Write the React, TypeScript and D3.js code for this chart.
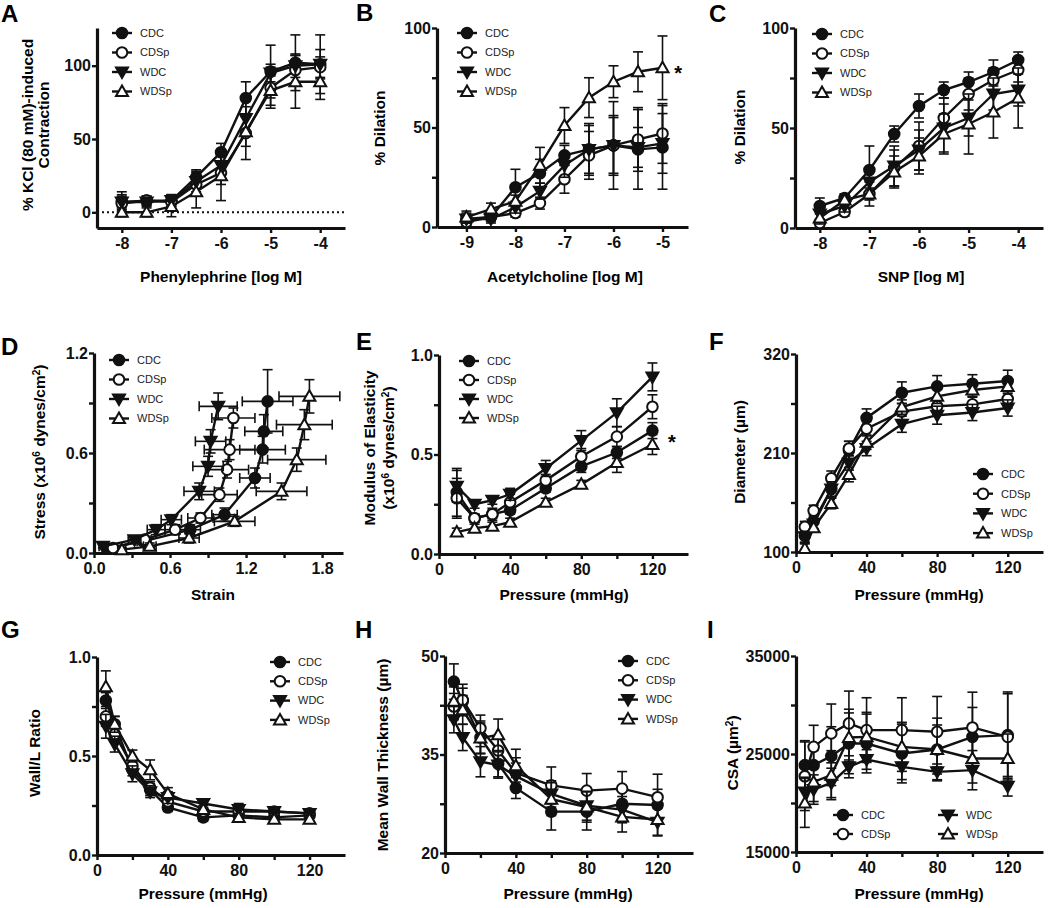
import React, { useEffect, useRef } from 'react';
import * as d3 from 'd3';

const GROUPS = ['CDC', 'CDSp', 'WDC', 'WDSp'];

// A: phenylephrine contraction
const peDose = [-8, -7.5, -7, -6.5, -6, -5.5, -5, -4.5, -4];
const peMean = [
    [7, 8, 8, 24, 41, 78, 96, 102, 101],
    [6, 8, 7, 19, 27, 54, 85, 97, 99],
    [7, 7, 8, 21, 32, 64, 95, 100, 101],
    [0, 0, 4, 14, 25, 55, 83, 89, 89],
];
const peErr = [
    [7, 3, 4, 5, 6, 11, 18, 19, 20],
    [5, 3, 5, 8, 8, 18, 14, 10, 7],
    [5, 3, 4, 7, 10, 12, 6, 8, 10],
    [3, 3, 7, 11, 17, 10, 10, 18, 12],
];

// B: acetylcholine dilation
const achDose = [-9, -8.5, -8, -7.5, -7, -6.5, -6, -5.5, -5];
const achMean = [
    [4, 5, 20, 27, 36, 39, 41, 39, 40],
    [2.5, 5, 7, 12, 24, 36, 41, 44, 47],
    [4, 4, 10, 18, 31, 39, 41, 40, 42],
    [5, 9, 13, 31, 51, 65, 73, 78, 80],
];
const achErr = [
    [3, 2, 9, 7, 5, 13, 22, 20, 21],
    [2, 2, 2, 3, 7, 12, 14, 16, 15],
    [2, 2, 3, 4, 6, 12, 15, 10, 15],
    [3, 3, 3, 9, 9, 10, 8, 10, 16],
];

// C: SNP dilation
const snpDose = [-8, -7.5, -7, -6.5, -6, -5.5, -5, -4.5, -4];
const snpMean = [
    [11, 15, 29, 47, 61, 69, 73, 78, 84],
    [2.5, 8, 17, 30, 41, 55, 67, 74, 79],
    [7, 11, 23, 31, 39, 50, 55, 67, 69],
    [5, 14, 17, 28, 36, 47, 52, 58, 65],
];
const snpErr = [
    [4, 2, 12, 4, 6, 4, 5, 6, 4],
    [2, 2, 3, 9, 12, 10, 8, 6, 6],
    [3, 3, 6, 10, 10, 12, 9, 8, 8],
    [3, 3, 6, 8, 9, 10, 15, 13, 15],
];

// D: stress-strain
const ssStrain = [
    [0.10, 0.39, 0.76, 1.03, 1.27, 1.33, 1.34, 1.37],
    [0.15, 0.40, 0.64, 0.84, 0.99, 1.05, 1.07, 1.10],
    [0.07, 0.32, 0.49, 0.61, 0.83, 0.90, 0.92, 0.98],
    [0.22, 0.44, 0.75, 1.11, 1.48, 1.60, 1.66, 1.70],
];
const ssStress = [
    [0.03, 0.07, 0.14, 0.23, 0.45, 0.62, 0.73, 0.91],
    [0.03, 0.08, 0.14, 0.21, 0.35, 0.50, 0.62, 0.81],
    [0.04, 0.08, 0.14, 0.20, 0.37, 0.52, 0.67, 0.88],
    [0.02, 0.04, 0.09, 0.19, 0.37, 0.56, 0.77, 0.94],
];
const ssStrainErr = [
    [0.03, 0.05, 0.08, 0.10, 0.12, 0.18, 0.15, 0.20],
    [0.03, 0.05, 0.08, 0.10, 0.14, 0.17, 0.20, 0.17],
    [0.03, 0.05, 0.07, 0.08, 0.12, 0.12, 0.12, 0.15],
    [0.03, 0.05, 0.08, 0.16, 0.20, 0.23, 0.22, 0.24],
];
const ssStressErr = [
    [0.01, 0.02, 0.03, 0.04, 0.06, 0.08, 0.10, 0.19],
    [0.01, 0.02, 0.03, 0.03, 0.04, 0.05, 0.06, 0.06],
    [0.01, 0.02, 0.03, 0.03, 0.05, 0.06, 0.07, 0.08],
    [0.01, 0.02, 0.03, 0.03, 0.05, 0.07, 0.09, 0.10],
];

// E: modulus of elasticity
const modPressure = [10, 20, 30, 40, 60, 80, 100, 120];
const modMean = [
    [0.31, 0.18, 0.20, 0.22, 0.33, 0.44, 0.51, 0.62],
    [0.28, 0.18, 0.20, 0.26, 0.37, 0.49, 0.59, 0.74],
    [0.34, 0.25, 0.27, 0.30, 0.43, 0.57, 0.71, 0.89],
    [0.11, 0.13, 0.14, 0.16, 0.26, 0.35, 0.46, 0.55],
];
const modErr = [
    [0.12, 0.02, 0.02, 0.02, 0.02, 0.03, 0.03, 0.04],
    [0.10, 0.02, 0.03, 0.04, 0.03, 0.04, 0.05, 0.06],
    [0.08, 0.02, 0.02, 0.03, 0.04, 0.05, 0.07, 0.07],
    [0.02, 0.02, 0.02, 0.02, 0.02, 0.02, 0.05, 0.05],
];

// F, G, H, I: pressure curves
const pressure = [5, 10, 20, 30, 40, 60, 80, 100, 120];
const diamMean = [
    [118, 134, 170, 213, 249, 277, 284, 287, 290],
    [128, 146, 182, 215, 237, 256, 262, 264, 270],
    [117, 131, 170, 199, 215, 242, 252, 255, 260],
    [104, 127, 154, 186, 222, 261, 273, 280, 284],
];
const diamErr = [
    [8, 8, 10, 10, 10, 12, 12, 10, 12],
    [6, 6, 8, 8, 8, 9, 9, 9, 10],
    [6, 6, 8, 8, 8, 9, 10, 9, 9],
    [5, 5, 6, 8, 8, 8, 8, 8, 8],
];
const wlMean = [
    [0.78, 0.66, 0.43, 0.33, 0.24, 0.19, 0.20, 0.19, 0.20],
    [0.70, 0.61, 0.45, 0.34, 0.27, 0.22, 0.22, 0.22, 0.21],
    [0.65, 0.56, 0.41, 0.32, 0.29, 0.26, 0.23, 0.22, 0.21],
    [0.85, 0.66, 0.50, 0.43, 0.31, 0.23, 0.19, 0.18, 0.18],
];
const wlErr = [
    [0.04, 0.04, 0.03, 0.03, 0.02, 0.02, 0.02, 0.01, 0.01],
    [0.05, 0.04, 0.03, 0.03, 0.02, 0.01, 0.01, 0.01, 0.01],
    [0.06, 0.04, 0.04, 0.03, 0.03, 0.02, 0.03, 0.01, 0.01],
    [0.08, 0.04, 0.03, 0.05, 0.03, 0.02, 0.02, 0.01, 0.01],
];
const wtMean = [
    [46.1, 43.1, 37.6, 33.6, 29.9, 26.3, 26.3, 27.5, 27.3],
    [42.3, 43.3, 39.0, 35.6, 32.2, 30.3, 29.5, 29.8, 28.5],
    [40.3, 37.6, 33.9, 33.4, 31.7, 29.0, 27.2, 26.6, 24.7],
    [43.1, 41.8, 37.5, 38.0, 33.3, 28.2, 27.0, 25.5, 25.1],
];
const wtErr = [
    [2.7, 2.0, 2.5, 2.0, 1.6, 2.8, 2.8, 2.2, 2.4],
    [2.0, 2.4, 2.0, 2.2, 2.3, 2.8, 2.6, 2.6, 3.5],
    [2.0, 2.0, 2.3, 2.0, 2.0, 2.0, 2.2, 2.0, 2.1],
    [2.2, 2.2, 2.3, 2.4, 2.5, 2.5, 2.3, 2.3, 2.4],
];
const csaMean = [
    [23860, 23860, 24780, 26070, 26070, 25050, 25460, 26750, 26930],
    [22730, 25730, 27100, 28120, 27440, 27440, 27270, 27710, 26750],
    [21130, 21370, 22050, 23690, 24440, 23690, 23180, 23350, 21710],
    [20010, 22150, 22840, 26690, 26750, 25730, 25460, 24540, 24540],
];
const csaErr = [
    [2500, 1500, 3000, 3500, 3000, 3000, 3200, 3000, 4400],
    [3500, 2200, 3000, 3300, 3300, 3300, 3600, 3600, 4400],
    [1500, 1500, 1500, 700, 1000, 1300, 800, 2000, 1000],
    [2500, 2000, 2500, 2500, 2500, 2500, 2500, 2500, 2500],
];

const FONT = "Arial, 'Liberation Sans', Helvetica, sans-serif";

// plain hyphen for negatives, as in the original figure
const intFmt = v => String(v);
const oneDec = v => v.toFixed(1);

// panel frames: left/right x of x-axis, top/bottom y of y-axis
const panels = [
    {
        letter: 'A', letterX: 1, letterY: 22,
        left: 97, right: 345, top: 28, bottom: 228,
        xDomain: [-8.5, -3.5], yDomain: [-10.7, 125.7],
        xTicks: [-8, -7, -6, -5, -4], xMinor: [], yTicks: [0, 50, 100], yMinor: [],
        xFmt: intFmt, yFmt: intFmt,
        xTitle: 'Phenylephrine [log M]', xTitleX: 221, xTitleY: 282,
        yTitle: ['% KCl (80 mM)-induced', 'Contraction'], yTitleX: [28, 44], yTitleY: 125,
        xs: [peDose, peDose, peDose, peDose], ys: peMean, yErr: peErr,
        legend: { x: 122, y: 33, dy: 19.5, cols: 1 }, zeroLine: true,
    },
    {
        letter: 'B', letterX: 356, letterY: 21,
        left: 437, right: 688, top: 28, bottom: 227,
        xDomain: [-9.6, -4.48], yDomain: [0, 100],
        xTicks: [-9, -8, -7, -6, -5], xMinor: [], yTicks: [0, 50, 100], yMinor: [25, 75],
        xFmt: intFmt, yFmt: intFmt,
        xTitle: 'Acetylcholine [log M]', xTitleX: 565, xTitleY: 282,
        yTitle: ['% Dilation'], yTitleX: [380], yTitleY: 128,
        xs: [achDose, achDose, achDose, achDose], ys: achMean, yErr: achErr,
        legend: { x: 467, y: 33, dy: 19.5, cols: 1 }, star: { x: -4.68, y: 81 },
    },
    {
        letter: 'C', letterX: 709, letterY: 22,
        left: 795, right: 1043, top: 28, bottom: 228,
        xDomain: [-8.5, -3.5], yDomain: [0, 100],
        xTicks: [-8, -7, -6, -5, -4], xMinor: [], yTicks: [0, 50, 100], yMinor: [25, 75],
        xFmt: intFmt, yFmt: intFmt,
        xTitle: 'SNP [log M]', xTitleX: 921, xTitleY: 282,
        yTitle: ['% Dilation'], yTitleX: [740], yTitleY: 127,
        xs: [snpDose, snpDose, snpDose, snpDose], ys: snpMean, yErr: snpErr,
        legend: { x: 822, y: 34, dy: 19.5, cols: 1 },
    },
    {
        letter: 'D', letterX: 1, letterY: 355,
        left: 94, right: 343, top: 353, bottom: 553,
        xDomain: [0, 1.965], yDomain: [0, 1.2],
        xTicks: [0, 0.6, 1.2, 1.8], xMinor: [0.3, 0.9, 1.5], yTicks: [0, 0.6, 1.2], yMinor: [0.3, 0.9],
        xFmt: oneDec, yFmt: oneDec,
        xTitle: 'Strain', xTitleX: 213, xTitleY: 600,
        yTitle: ['Stress (x10^6 dynes/cm^2)'], yTitleX: [40], yTitleY: 452,
        xs: ssStrain, ys: ssStress, yErr: ssStressErr, xErr: ssStrainErr,
        legend: { x: 119, y: 360, dy: 19.5, cols: 1 },
    },
    {
        letter: 'E', letterX: 356, letterY: 350,
        left: 439, right: 688, top: 355, bottom: 554,
        xDomain: [0, 140], yDomain: [0, 1],
        xTicks: [0, 40, 80, 120], xMinor: [20, 60, 100], yTicks: [0, 0.5, 1], yMinor: [0.25, 0.75],
        xFmt: intFmt, yFmt: oneDec,
        xTitle: 'Pressure (mmHg)', xTitleX: 564, xTitleY: 600,
        yTitle: ['Modulus of Elasticity', '(x10^6 dynes/cm^2)'], yTitleX: [370, 389], yTitleY: 448,
        xs: [modPressure, modPressure, modPressure, modPressure], ys: modMean, yErr: modErr,
        legend: { x: 469, y: 361, dy: 19, cols: 1 }, star: { x: 131, y: 0.6 },
    },
    {
        letter: 'F', letterX: 709, letterY: 350,
        left: 796, right: 1043, top: 354, bottom: 552,
        xDomain: [0, 140], yDomain: [100, 320],
        xTicks: [0, 40, 80, 120], xMinor: [20, 60, 100], yTicks: [100, 210, 320], yMinor: [155, 265],
        xFmt: intFmt, yFmt: intFmt,
        xTitle: 'Pressure (mmHg)', xTitleX: 919, xTitleY: 600,
        yTitle: ['Diameter (µm)'], yTitleX: [740], yTitleY: 452,
        xs: [pressure, pressure, pressure, pressure], ys: diamMean, yErr: diamErr,
        legend: { x: 983, y: 474, dy: 19.7, cols: 1 },
    },
    {
        letter: 'G', letterX: 1, letterY: 638,
        left: 97, right: 345, top: 657, bottom: 855,
        xDomain: [0, 140], yDomain: [0, 1],
        xTicks: [0, 40, 80, 120], xMinor: [20, 60, 100], yTicks: [0, 0.5, 1], yMinor: [0.25, 0.75],
        xFmt: intFmt, yFmt: oneDec,
        xTitle: 'Pressure (mmHg)', xTitleX: 203, xTitleY: 899,
        yTitle: ['Wall/L Ratio'], yTitleX: [35], yTitleY: 753,
        xs: [pressure, pressure, pressure, pressure], ys: wlMean, yErr: wlErr,
        legend: { x: 280, y: 662, dy: 19.3, cols: 1 },
    },
    {
        letter: 'H', letterX: 355, letterY: 638,
        left: 445, right: 693, top: 656, bottom: 853,
        xDomain: [0, 140], yDomain: [20, 50],
        xTicks: [0, 40, 80, 120], xMinor: [20, 60, 100], yTicks: [20, 35, 50], yMinor: [27.5, 42.5],
        xFmt: intFmt, yFmt: intFmt,
        xTitle: 'Pressure (mmHg)', xTitleX: 568, xTitleY: 899,
        yTitle: ['Mean Wall Thickness (µm)'], yTitleX: [383], yTitleY: 755,
        xs: [pressure, pressure, pressure, pressure], ys: wtMean, yErr: wtErr,
        legend: { x: 628, y: 661, dy: 19.3, cols: 1 },
    },
    {
        letter: 'I', letterX: 707, letterY: 638,
        left: 796, right: 1043, top: 656, bottom: 852,
        xDomain: [0, 140], yDomain: [15000, 35000],
        xTicks: [0, 40, 80, 120], xMinor: [20, 60, 100], yTicks: [15000, 25000, 35000], yMinor: [20000, 30000],
        xFmt: intFmt, yFmt: intFmt,
        xTitle: 'Pressure (mmHg)', xTitleX: 919, xTitleY: 899,
        yTitle: ['CSA (µm^2)'], yTitleX: [733], yTitleY: 753,
        xs: [pressure, pressure, pressure, pressure], ys: csaMean, yErr: csaErr,
        legend: { x: 843, y: 815, dy: 19, cols: 2, colDx: 105 },
    },
];

// marker shapes: filled circle, open circle, filled down-triangle, open up-triangle
const markerFill = ['#111', '#fff', '#111', '#fff'];
const drawMarker = (g, i, x, y) => {
    if (i < 2) {
        g.append('circle').attr('cx', x).attr('cy', y).attr('r', 5.3)
            .attr('fill', markerFill[i]).attr('stroke', '#111').attr('stroke-width', 2);
    } else {
        const s = i === 2 ? 1 : -1;
        const pts = [[x, y + 6 * s], [x + 6, y - 4.5 * s], [x - 6, y - 4.5 * s]];
        g.append('path').attr('d', d3.line()(pts) + 'Z')
            .attr('fill', markerFill[i]).attr('stroke', '#111').attr('stroke-width', 2)
            .attr('stroke-linejoin', 'miter');
    }
};

// write text with ^ marking a superscript
const richText = (t, str) => {
    const parts = str.split(/(\^\d)/);
    parts.forEach(p => {
        if (p.startsWith('^')) {
            t.append('tspan').attr('baseline-shift', 'super').attr('font-size', '0.65em').text(p.slice(1));
        } else if (p) {
            t.append('tspan').text(p);
        }
    });
};

const App = () => {
    const svgRef = useRef(null);

    useEffect(() => {
        const svg = d3.select(svgRef.current);
        svg.selectAll('*').remove();
        svg.append('rect').attr('width', 1050).attr('height', 908).attr('fill', '#fff');

        panels.forEach(p => {
            const g = svg.append('g').attr('font-family', FONT);
            const x = d3.scaleLinear().domain(p.xDomain).range([p.left, p.right]);
            const y = d3.scaleLinear().domain(p.yDomain).range([p.bottom, p.top]);

            // panel letter
            g.append('text').attr('x', p.letterX).attr('y', p.letterY)
                .attr('font-size', 24).attr('font-weight', 'bold').text(p.letter);

            // axes
            const xAxis = g.append('g').attr('transform', `translate(0,${p.bottom})`)
                .call(d3.axisBottom(x).tickValues(p.xTicks).tickFormat(p.xFmt).tickSize(5).tickSizeOuter(0).tickPadding(5));
            g.append('g').attr('transform', `translate(0,${p.bottom})`)
                .call(d3.axisBottom(x).tickValues(p.xMinor).tickFormat(() => '').tickSize(5).tickSizeOuter(0))
                .select('.domain').remove();
            const yAxis = g.append('g').attr('transform', `translate(${p.left},0)`)
                .call(d3.axisLeft(y).tickValues(p.yTicks).tickFormat(p.yFmt).tickSize(5).tickSizeOuter(0).tickPadding(1));
            g.append('g').attr('transform', `translate(${p.left},0)`)
                .call(d3.axisLeft(y).tickValues(p.yMinor).tickFormat(() => '').tickSize(5).tickSizeOuter(0))
                .select('.domain').remove();
            [xAxis, yAxis].forEach(a => {
                a.select('.domain').attr('stroke', '#111').attr('stroke-width', 3.2);
                a.selectAll('.tick text').attr('font-size', 16).attr('font-weight', 'bold')
                    .attr('font-family', FONT).attr('fill', '#111');
            });
            g.selectAll('.tick line').attr('stroke', '#111').attr('stroke-width', 2.4);

            if (p.zeroLine) {
                g.append('line').attr('x1', p.left).attr('x2', p.right)
                    .attr('y1', y(0)).attr('y2', y(0))
                    .attr('stroke', '#111').attr('stroke-width', 2).attr('stroke-dasharray', '2,3');
            }

            // titles
            g.append('text').attr('x', p.xTitleX).attr('y', p.xTitleY)
                .attr('text-anchor', 'middle').attr('font-size', 15.5).attr('font-weight', 'bold')
                .text(p.xTitle);
            p.yTitle.forEach((line, k) => {
                const t = g.append('text')
                    .attr('transform', `translate(${p.yTitleX[k]},${p.yTitleY}) rotate(-90)`)
                    .attr('dy', '0.35em').attr('text-anchor', 'middle')
                    .attr('font-size', 15.5).attr('font-weight', 'bold');
                richText(t, line);
            });

            // series: error bars, line, markers
            GROUPS.forEach((name, i) => {
                const sg = g.append('g');
                const xs = p.xs[i];
                const ys = p.ys[i];
                const pts = xs.map((xv, j) => ({ x: xv, y: ys[j], e: p.yErr[i][j], xe: p.xErr ? p.xErr[i][j] : 0 }));
                pts.forEach(d => {
                    const cx = x(d.x);
                    const y1 = y(d.y + d.e);
                    const y2 = y(d.y - d.e);
                    sg.append('line').attr('x1', cx).attr('x2', cx).attr('y1', y1).attr('y2', y2)
                        .attr('stroke', '#111').attr('stroke-width', 1.6);
                    [y1, y2].forEach(yy => sg.append('line').attr('x1', cx - 5).attr('x2', cx + 5)
                        .attr('y1', yy).attr('y2', yy).attr('stroke', '#111').attr('stroke-width', 1.6));
                    if (d.xe) {
                        const cy = y(d.y);
                        const x1 = x(d.x - d.xe);
                        const x2 = x(d.x + d.xe);
                        sg.append('line').attr('x1', x1).attr('x2', x2).attr('y1', cy).attr('y2', cy)
                            .attr('stroke', '#111').attr('stroke-width', 1.6);
                        [x1, x2].forEach(xx => sg.append('line').attr('x1', xx).attr('x2', xx)
                            .attr('y1', cy - 5).attr('y2', cy + 5).attr('stroke', '#111').attr('stroke-width', 1.6));
                    }
                });
                sg.append('path')
                    .attr('d', d3.line().x(d => x(d.x)).y(d => y(d.y))(pts))
                    .attr('fill', 'none').attr('stroke', '#111').attr('stroke-width', 2.4);
                pts.forEach(d => drawMarker(sg, i, x(d.x), y(d.y)));
            });

            // legend
            const L = p.legend;
            GROUPS.forEach((name, i) => {
                const col = L.cols === 2 ? Math.floor(i / 2) : 0;
                const row = L.cols === 2 ? i % 2 : i;
                const lx = L.x + col * (L.colDx || 0);
                const ly = L.y + row * L.dy;
                g.append('line').attr('x1', lx - 10).attr('x2', lx + 10).attr('y1', ly).attr('y2', ly)
                    .attr('stroke', '#111').attr('stroke-width', 2.4);
                drawMarker(g, i, lx, ly);
                g.append('text').attr('x', lx + 18).attr('y', ly).attr('dy', '0.35em')
                    .attr('font-size', 11).attr('fill', '#222').text(name);
            });

            if (p.star) {
                g.append('text').attr('x', x(p.star.x)).attr('y', y(p.star.y))
                    .attr('dy', '0.7em').attr('text-anchor', 'middle')
                    .attr('font-size', 20).attr('font-weight', 'bold').text('*');
            }
        });
    }, []);

    return (
        <svg ref={svgRef} width={1050} height={908}
            style={{ position: 'absolute', left: 0, top: 0, display: 'block' }} />
    );
};

export default App;
